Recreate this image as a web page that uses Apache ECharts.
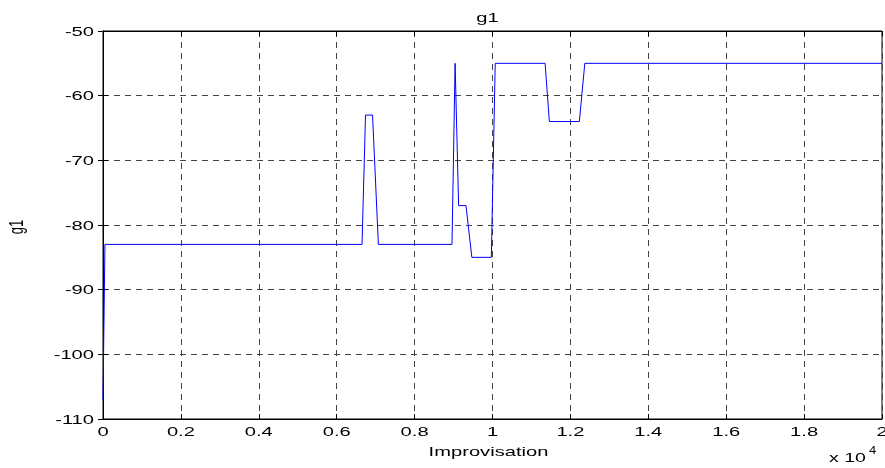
<!DOCTYPE html>
<html>
<head>
<meta charset="utf-8">
<script src="https://cdn.jsdelivr.net/npm/echarts@6/dist/echarts.min.js"></script>
<style>
  html, body { margin: 0; padding: 0; background: #fff; }
  #chart { width: 885px; height: 468px; }
</style>
</head>
<body>
<div id="chart"></div>
<script>
// improvisation count (x 10^4) and g1 value
var improvisation = [0, 0.005, 0.665, 0.674, 0.692, 0.707, 0.896, 0.904, 0.913, 0.932, 0.947, 0.997, 1.007, 1.135, 1.146, 1.223, 1.237, 2.0];
var g1Values      = [-107, -83, -83, -63, -63, -83, -83, -55, -77, -77, -85, -85, -55, -55, -64, -64, -55, -55];
var xTicks = [0, 0.2, 0.4, 0.6, 0.8, 1, 1.2, 1.4, 1.6, 1.8, 2];
var yTicks = [-110, -100, -90, -80, -70, -60, -50];

var seriesData = improvisation.map(function (x, i) { return [x, g1Values[i]]; });

var chart = echarts.init(document.getElementById('chart'));

var font = 'Liberation Sans, Arial, sans-serif';
// the matlab export is stretched sideways, so texts get a horizontal scale
var stretch = 1.55;
var dashed = { show: true, lineStyle: { color: '#444', type: [6, 5], width: 1 } };
var tickStyle = { show: true, inside: true, length: 5, lineStyle: { color: '#000' } };

var option = {
    animation: false,
    backgroundColor: '#fff',
    grid: { left: 103, right: 3, top: 31, bottom: 49, outerBoundsMode: 'none',
            show: true, borderColor: '#000', borderWidth: 1 },
    xAxis: [{
        type: 'value',
        min: xTicks[0], max: xTicks[xTicks.length - 1], interval: 0.2,
        axisLine: { show: true, lineStyle: { color: '#000' } },
        axisTick: tickStyle,
        axisLabel: { show: false },
        splitLine: dashed
    }, {
        type: 'value', position: 'top',
        min: xTicks[0], max: xTicks[xTicks.length - 1], interval: 0.2,
        axisLine: { show: true, lineStyle: { color: '#000' } },
        axisTick: tickStyle,
        axisLabel: { show: false },
        splitLine: { show: false }
    }],
    yAxis: [{
        type: 'value',
        min: yTicks[0], max: yTicks[yTicks.length - 1], interval: 10,
        axisLine: { show: true, lineStyle: { color: '#000' } },
        axisTick: tickStyle,
        axisLabel: { show: false },
        splitLine: dashed
    }, {
        type: 'value', position: 'right',
        min: yTicks[0], max: yTicks[yTicks.length - 1], interval: 10,
        axisLine: { show: true, lineStyle: { color: '#000' } },
        axisTick: tickStyle,
        axisLabel: { show: false },
        splitLine: { show: false }
    }],
    series: [{
        name: 'g1',
        type: 'line',
        data: seriesData,
        showSymbol: false,
        lineStyle: { color: '#0000ff', width: 1 },
        itemStyle: { color: '#0000ff' }
    }]
};

chart.setOption(option);

// texts placed from the axis scales
function txt(str, x, y, align, size, extra) {
    var el = {
        type: 'text', x: x, y: y, scaleX: stretch, silent: true,
        style: { text: str, fontFamily: font, fontSize: size, fill: '#000',
                 align: align, verticalAlign: 'middle' }
    };
    for (var k in extra) el[k] = extra[k];
    return el;
}

var xBottom = chart.convertToPixel({ yAxisIndex: 0 }, yTicks[0]);
var yTop = chart.convertToPixel({ yAxisIndex: 0 }, yTicks[yTicks.length - 1]);
var xLeft = chart.convertToPixel({ xAxisIndex: 0 }, xTicks[0]);
var xMid = chart.convertToPixel({ xAxisIndex: 0 }, 1);
var yMid = chart.convertToPixel({ yAxisIndex: 0 }, -80);

var graphics = [];
xTicks.forEach(function (v) {
    graphics.push(txt(String(v), chart.convertToPixel({ xAxisIndex: 0 }, v), xBottom + 13, 'center', 13));
});
yTicks.forEach(function (v) {
    graphics.push(txt(String(v), xLeft - 9, chart.convertToPixel({ yAxisIndex: 0 }, v) + 1, 'right', 13));
});
graphics.push(txt('g1', xMid - 5, yTop - 13, 'center', 13));
graphics.push(txt('Improvisation', xMid - 4, xBottom + 33, 'center', 13));
graphics.push(txt('x 10', 829, xBottom + 39, 'left', 13, { scaleX: 1.5 }));
graphics.push(txt('4', 869, xBottom + 32, 'left', 10, { scaleX: 1.3 }));
graphics.push({
    type: 'text', x: 17, y: yMid + 2, rotation: Math.PI / 2, scaleY: stretch, silent: true,
    style: { text: 'g1', fontFamily: font, fontSize: 13, fill: '#000',
             align: 'center', verticalAlign: 'middle' }
});

chart.setOption({ graphic: graphics });
</script>
</body>
</html>
